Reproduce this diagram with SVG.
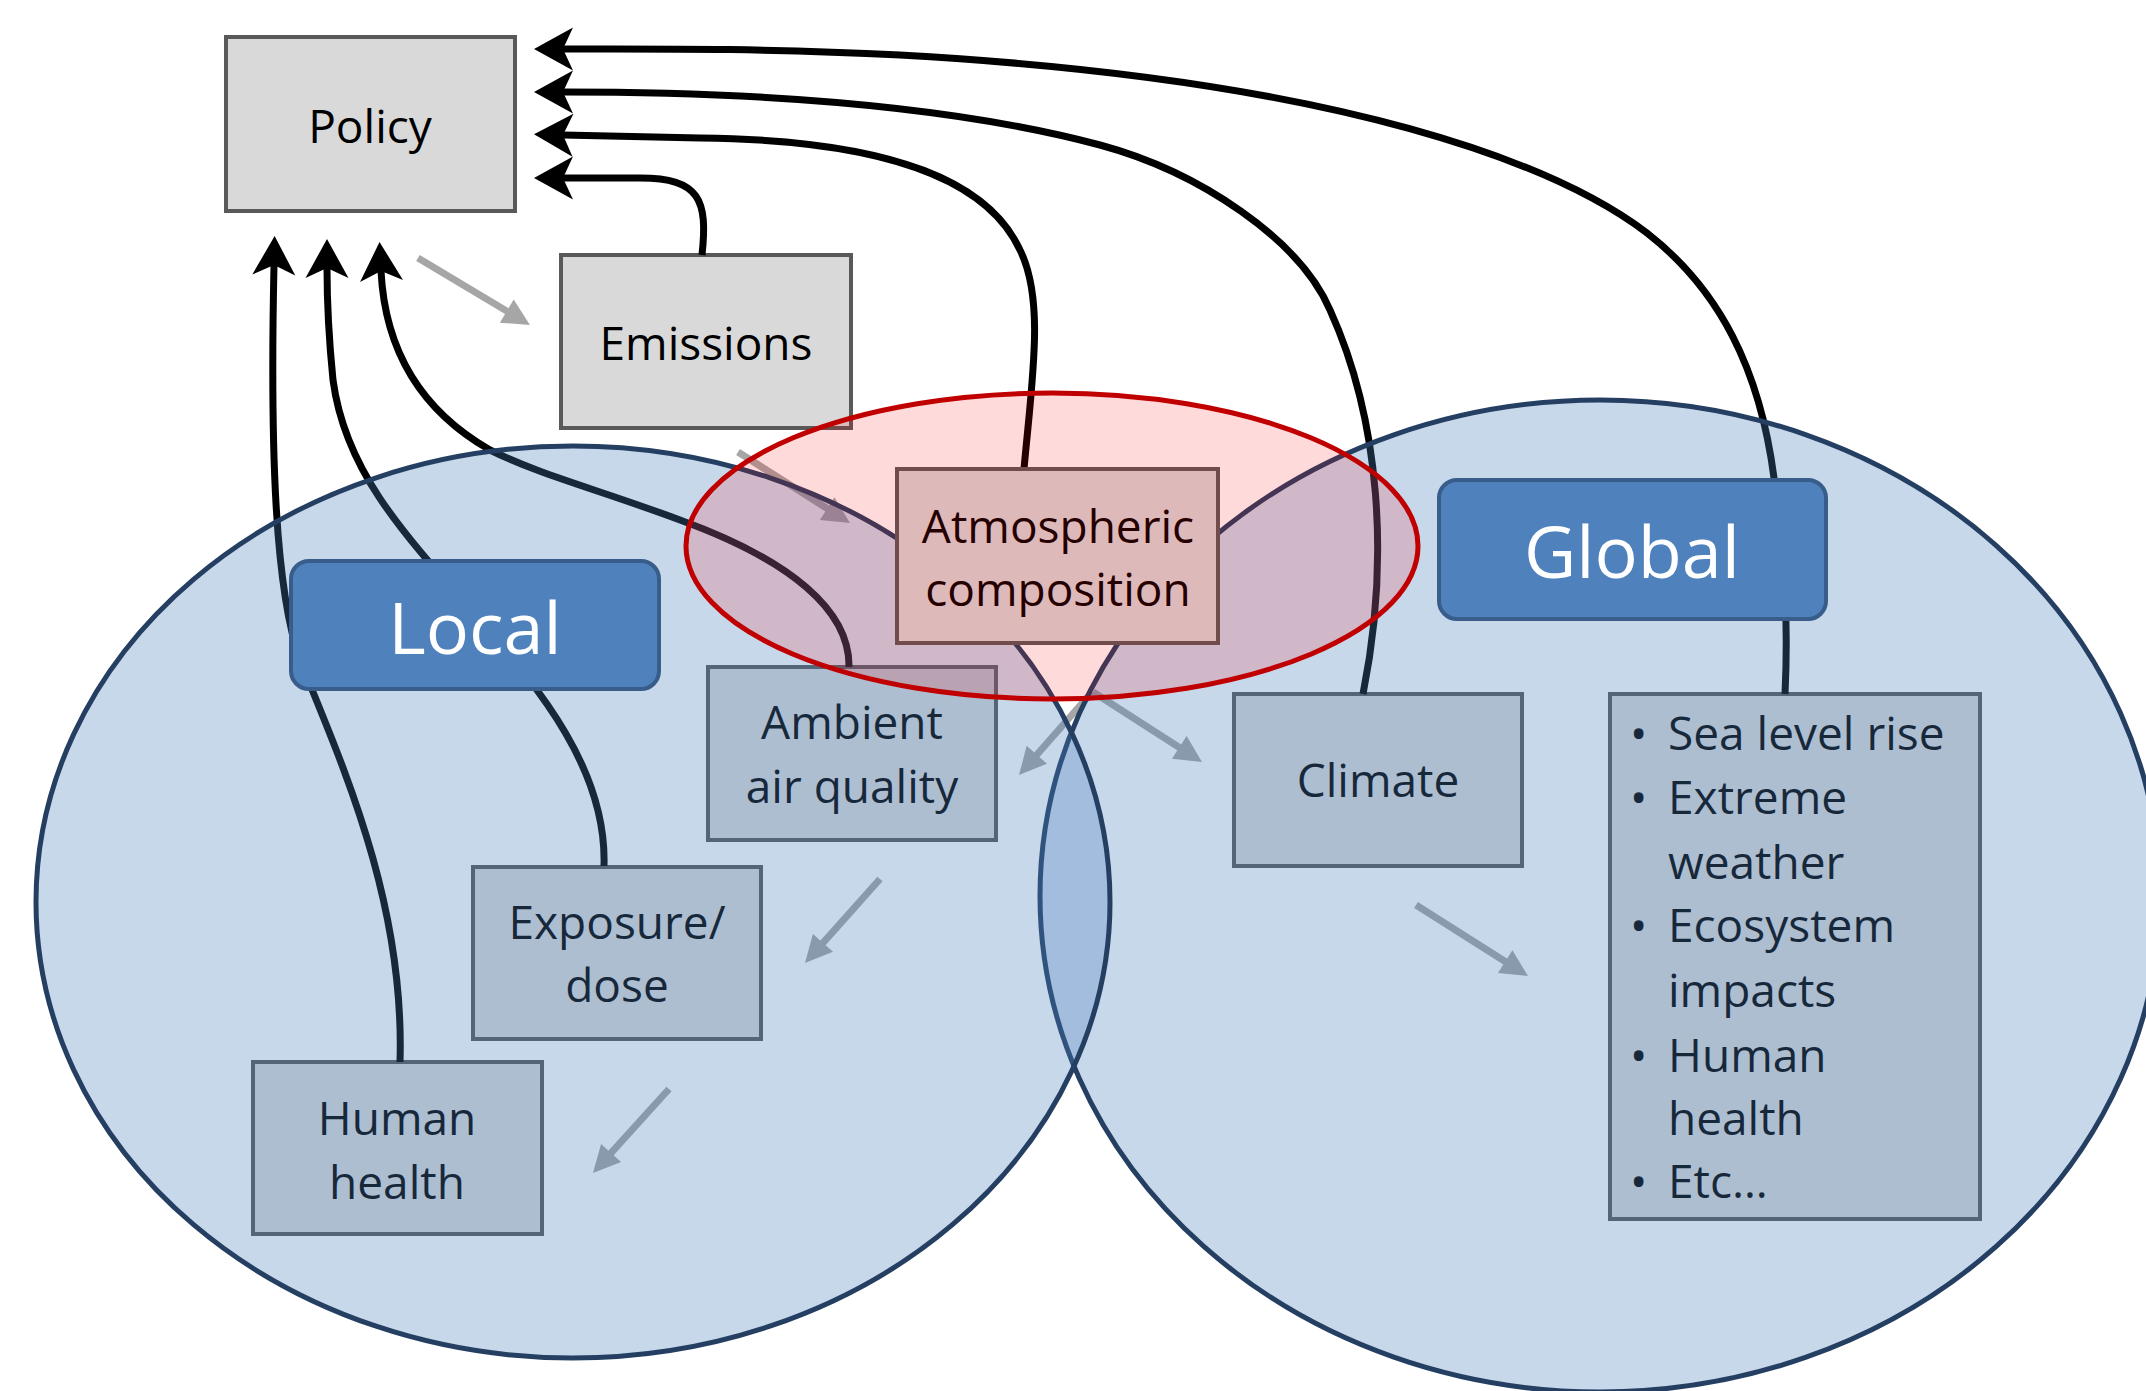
<svg xmlns="http://www.w3.org/2000/svg" width="2146" height="1391" viewBox="0 0 2146 1391">
<style>
.box{fill:#d9d9d9;stroke:#595959;stroke-width:4}
.t{font-family:"Open Sans","Liberation Sans",sans-serif;font-size:46px;fill:#000;text-anchor:middle}
.tl{font-family:"Open Sans","Liberation Sans",sans-serif;font-size:46px;fill:#000}
.lab{fill:#4f81bd;stroke:#385d8a;stroke-width:4}
.labt{font-family:"Open Sans","Liberation Sans",sans-serif;font-size:72px;fill:#fff;text-anchor:middle}
.fb{fill:none;stroke:#000;stroke-width:7}
.gr{fill:none;stroke:#a6a6a6;stroke-width:7}
.blue{fill:#4f81bd;fill-opacity:0.31;stroke:#243f62;stroke-width:5}
</style>
<defs>
<marker id="blk" markerUnits="userSpaceOnUse" markerWidth="80" markerHeight="80" refX="0" refY="0" orient="auto" style="overflow:visible">
<path d="M29,0 L-10,-21.5 L0,0 L-10,21.5 Z" fill="#000"/>
</marker>
<marker id="gry" markerUnits="userSpaceOnUse" markerWidth="60" markerHeight="60" refX="0" refY="0" orient="auto" style="overflow:visible">
<path d="M20,0 L-7,-13.5 L-7,13.5 Z" fill="#a6a6a6"/>
</marker>
</defs>
<rect width="2146" height="1391" fill="#fff"/>

<g id="policy">
<rect class="box" x="226" y="37" width="289" height="174"/>
<text class="t" x="370" y="143">Policy</text>
</g>
<g id="emissions">
<rect class="box" x="561" y="255" width="290" height="173"/>
<text class="t" x="706" y="360">Emissions</text>
</g>
<g id="ambient-air-quality">
<rect class="box" x="708" y="667" width="288" height="173"/>
<text class="t" x="852" y="739">Ambient</text>
<text class="t" x="852" y="803">air quality</text>
</g>
<g id="exposure-dose">
<rect class="box" x="473" y="867" width="288" height="172"/>
<text class="t" x="617" y="939">Exposure/</text>
<text class="t" x="617" y="1002">dose</text>
</g>
<g id="human-health">
<rect class="box" x="253" y="1062" width="289" height="172"/>
<text class="t" x="397" y="1135">Human</text>
<text class="t" x="397" y="1199">health</text>
</g>
<g id="climate">
<rect class="box" x="1234" y="694" width="288" height="172"/>
<text class="t" x="1378" y="797">Climate</text>
</g>
<g id="global-impacts">
<rect class="box" x="1610" y="694" width="370" height="525"/>
<text class="tl" x="1630" y="750">•</text><text class="tl" x="1668" y="750">Sea level rise</text>
<text class="tl" x="1630" y="814">•</text><text class="tl" x="1668" y="814">Extreme</text>
<text class="tl" x="1668" y="879">weather</text>
<text class="tl" x="1630" y="942">•</text><text class="tl" x="1668" y="942">Ecosystem</text>
<text class="tl" x="1668" y="1007">impacts</text>
<text class="tl" x="1630" y="1072">•</text><text class="tl" x="1668" y="1072">Human</text>
<text class="tl" x="1668" y="1135">health</text>
<text class="tl" x="1630" y="1198">•</text><text class="tl" x="1668" y="1198">Etc…</text>
</g>

<g id="connectors">
<path class="fb" marker-end="url(#blk)" d="M1785,694 C1789,610 1783,545 1774,478 C1760,370 1720,290 1647,233 C1560,167 1350,80 900,55 C760,48 650,49 563,49"/>
<path class="fb" marker-end="url(#blk)" d="M1363,694 C1390,560 1380,420 1330,310 C1300,240 1200,172 1100,145 C950,105 750,92 563,92"/>
<path class="fb" marker-end="url(#blk)" d="M1024,469 C1032,380 1045,300 1020,250 C990,185 900,140 700,138 L563,135"/>
<path class="fb" marker-end="url(#blk)" d="M702,255 C708,200 700,178 640,178 L563,178"/>
<path class="fb" marker-end="url(#blk)" d="M400,1062 C405,900 340,760 300,660 C275,590 270,450 274,265"/>
<path class="fb" marker-end="url(#blk)" d="M604,866 C607,770 540,690 480,620 C400,530 345,470 333,380 C328,330 327,300 327,268"/>
<path class="fb" marker-end="url(#blk)" d="M849,667 C850,610 790,560 680,520 C600,490 540,475 490,450 C420,410 385,350 381,271"/>
<path class="gr" marker-end="url(#gry)" d="M418,258 L512.8,314.7"/>
<path class="gr" marker-end="url(#gry)" d="M738,452 L833.1,512.3"/>
<path class="gr" marker-end="url(#gry)" d="M1092,692 L1032.2,760"/>
<path class="gr" marker-end="url(#gry)" d="M1093,692 L1185.2,751.2"/>
<path class="gr" marker-end="url(#gry)" d="M880,879 L818.3,948.1"/>
<path class="gr" marker-end="url(#gry)" d="M669,1089 L606.4,1158.2"/>
<path class="gr" marker-end="url(#gry)" d="M1416,905 L1511.1,965.3"/>
</g>

<g id="global-region">
<ellipse class="blue" cx="1600" cy="896" rx="560" ry="496"/>
</g>
<g id="local-region">
<ellipse class="blue" cx="573" cy="902" rx="537" ry="456"/>
</g>
<g id="atmospheric-composition">
<rect class="box" x="897" y="469" width="321" height="174"/>
<text class="t" x="1058" y="543">Atmospheric</text>
<text class="t" x="1058" y="606">composition</text>
</g>
<g id="atmosphere-region">
<ellipse cx="1052" cy="546" rx="366" ry="153" fill="#ff0000" fill-opacity="0.145" stroke="#c00000" stroke-width="5"/>
</g>

<g id="local">
<rect class="lab" x="291" y="561" width="368" height="128" rx="18"/>
<text class="labt" x="475" y="654">Local</text>
</g>
<g id="global">
<rect class="lab" x="1439" y="480" width="387" height="139" rx="18"/>
<text class="labt" x="1632" y="578">Global</text>
</g>
</svg>
